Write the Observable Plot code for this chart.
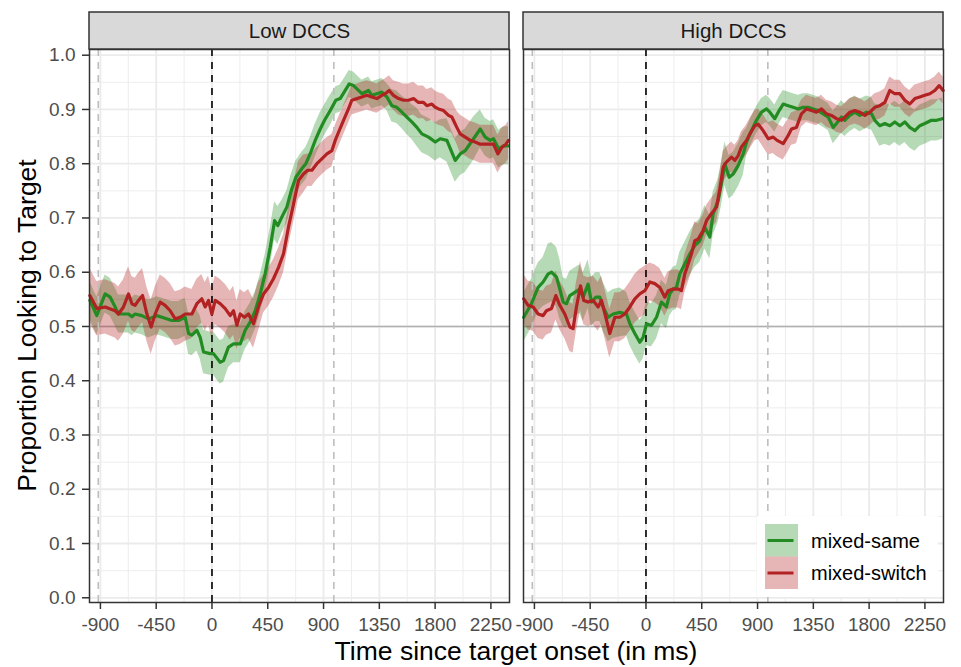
<!DOCTYPE html>
<html><head><meta charset="utf-8">
<script src="https://cdn.jsdelivr.net/npm/d3@7"></script>
<script src="https://cdn.jsdelivr.net/npm/@observablehq/plot@0.6"></script>
<style>
body{margin:0;background:#fff;}
#chart{position:relative;width:961px;height:667px;}
</style>
</head><body><div id="chart"></div>
<script>
// ---- data ----
const panels = ["Low DCCS", "High DCCS"];
const conditions = ["mixed-same", "mixed-switch"];
const colors = ["#228B22", "#B22222"];
const xTicks = [-900, -450, 0, 450, 900, 1350, 1800, 2250];
const xMinor = [-675, -225, 225, 675, 1125, 1575, 2025];
const yTicks = [0, 0.1, 0.2, 0.3, 0.4, 0.5, 0.6, 0.7, 0.8, 0.9, 1.0];
const yMinor = [0.05, 0.15, 0.25, 0.35, 0.45, 0.55, 0.65, 0.75, 0.85, 0.95];
const onsetLine = [0];
const windowLines = [-917, 983];
const chanceLine = [0.5];

const lowSameT = [-985,-929,-862,-821,-781,-754,-673,-646,-620,-566,-512,-445,-404,-324,-270,-216,-189,-162,-122,-95,-68,-15,12,66,93,133,174,228,268,308,349,389,429,470,505,531,564,604,639,677,725,757,792,833,873,908,954,999,1034,1075,1107,1142,1169,1209,1263,1290,1330,1370,1411,1451,1491,1532,1572,1612,1653,1693,1747,1801,1841,1895,1962,2002,2043,2110,2164,2204,2244,2271,2312,2352,2392];
const lowSameV = [0.548,0.520,0.560,0.554,0.536,0.523,0.523,0.518,0.523,0.520,0.514,0.520,0.517,0.511,0.511,0.517,0.487,0.484,0.493,0.480,0.453,0.450,0.450,0.434,0.437,0.462,0.468,0.468,0.493,0.508,0.529,0.560,0.597,0.646,0.695,0.686,0.702,0.720,0.750,0.775,0.791,0.800,0.818,0.843,0.864,0.880,0.898,0.917,0.920,0.935,0.947,0.944,0.938,0.929,0.935,0.926,0.929,0.932,0.923,0.907,0.904,0.895,0.886,0.877,0.867,0.855,0.849,0.840,0.846,0.843,0.806,0.818,0.824,0.846,0.864,0.849,0.843,0.846,0.827,0.833,0.833];
const lowSameSE = [0.035,0.035,0.035,0.035,0.035,0.035,0.035,0.035,0.035,0.035,0.035,0.035,0.035,0.035,0.035,0.035,0.038,0.038,0.038,0.04,0.04,0.04,0.04,0.04,0.04,0.038,0.035,0.035,0.035,0.035,0.035,0.035,0.035,0.035,0.035,0.035,0.03,0.03,0.03,0.03,0.03,0.03,0.03,0.03,0.03,0.028,0.028,0.025,0.025,0.025,0.025,0.025,0.025,0.025,0.025,0.025,0.025,0.025,0.025,0.03,0.03,0.03,0.032,0.032,0.035,0.035,0.035,0.035,0.035,0.04,0.04,0.04,0.04,0.04,0.035,0.035,0.035,0.035,0.035,0.035,0.035];

const lowSwitchT = [-985,-929,-862,-781,-754,-714,-673,-646,-620,-593,-560,-525,-491,-458,-418,-378,-337,-297,-257,-216,-162,-122,-82,-55,-28,-1,26,66,107,147,174,201,228,262,295,335,375,416,456,496,537,577,617,658,698,738,773,806,846,886,927,967,994,1021,1061,1101,1128,1169,1209,1249,1290,1330,1370,1397,1430,1464,1505,1545,1585,1626,1666,1706,1733,1774,1801,1828,1868,1908,1935,1975,2002,2043,2083,2123,2164,2204,2244,2271,2306,2338,2371,2392];
const lowSwitchV = [0.557,0.533,0.536,0.529,0.523,0.536,0.560,0.542,0.539,0.548,0.557,0.523,0.499,0.523,0.545,0.539,0.529,0.514,0.517,0.523,0.523,0.542,0.551,0.536,0.548,0.523,0.548,0.542,0.533,0.520,0.529,0.502,0.523,0.517,0.523,0.505,0.536,0.560,0.572,0.588,0.609,0.634,0.683,0.726,0.769,0.781,0.788,0.788,0.800,0.809,0.818,0.824,0.843,0.858,0.880,0.901,0.917,0.920,0.923,0.926,0.923,0.920,0.926,0.929,0.935,0.926,0.920,0.917,0.917,0.920,0.913,0.913,0.907,0.910,0.904,0.901,0.898,0.889,0.886,0.867,0.855,0.849,0.843,0.840,0.836,0.836,0.836,0.836,0.818,0.830,0.836,0.843];
const lowSwitchSE = [0.05,0.05,0.05,0.05,0.05,0.05,0.05,0.05,0.05,0.05,0.05,0.05,0.05,0.05,0.05,0.05,0.05,0.05,0.05,0.05,0.045,0.045,0.045,0.045,0.045,0.045,0.045,0.045,0.045,0.045,0.045,0.045,0.045,0.045,0.045,0.045,0.045,0.035,0.035,0.035,0.035,0.035,0.035,0.035,0.035,0.035,0.03,0.03,0.03,0.03,0.03,0.03,0.027,0.027,0.027,0.027,0.027,0.027,0.027,0.027,0.027,0.027,0.027,0.027,0.027,0.027,0.03,0.03,0.03,0.03,0.03,0.03,0.03,0.03,0.03,0.03,0.03,0.03,0.03,0.03,0.035,0.035,0.035,0.035,0.035,0.035,0.035,0.035,0.035,0.035,0.035,0.035];

const highSameT = [-986,-924,-870,-830,-789,-762,-722,-695,-668,-641,-614,-574,-534,-507,-467,-440,-405,-372,-346,-305,-265,-211,-157,-130,-90,-50,-23,4,44,85,125,165,192,219,246,273,313,354,394,434,475,515,542,582,609,636,671,703,744,784,811,851,891,932,972,999,1039,1074,1107,1147,1187,1228,1268,1308,1349,1389,1429,1470,1510,1537,1577,1604,1644,1685,1725,1779,1819,1846,1886,1927,1967,2007,2048,2088,2128,2169,2209,2249,2303,2344,2392];
const highSameV = [0.517,0.542,0.572,0.582,0.597,0.600,0.591,0.569,0.545,0.542,0.557,0.563,0.569,0.554,0.578,0.545,0.554,0.554,0.536,0.517,0.523,0.526,0.523,0.505,0.487,0.471,0.480,0.505,0.502,0.517,0.545,0.536,0.560,0.569,0.572,0.597,0.615,0.634,0.649,0.658,0.683,0.665,0.708,0.732,0.763,0.800,0.775,0.781,0.797,0.818,0.840,0.861,0.880,0.895,0.901,0.895,0.883,0.898,0.910,0.907,0.904,0.901,0.904,0.904,0.901,0.898,0.892,0.886,0.867,0.874,0.886,0.880,0.889,0.895,0.889,0.895,0.892,0.880,0.870,0.874,0.870,0.877,0.870,0.877,0.867,0.861,0.870,0.874,0.880,0.880,0.883];
const highSameSE = [0.045,0.045,0.045,0.045,0.055,0.055,0.055,0.055,0.045,0.045,0.045,0.045,0.045,0.045,0.045,0.045,0.045,0.045,0.045,0.045,0.045,0.045,0.04,0.04,0.04,0.04,0.04,0.04,0.04,0.04,0.04,0.04,0.04,0.04,0.04,0.04,0.04,0.04,0.04,0.04,0.04,0.04,0.04,0.04,0.04,0.04,0.04,0.04,0.04,0.04,0.025,0.025,0.025,0.025,0.025,0.025,0.025,0.025,0.025,0.025,0.025,0.025,0.025,0.025,0.025,0.025,0.025,0.025,0.03,0.03,0.03,0.03,0.03,0.03,0.03,0.03,0.03,0.03,0.038,0.038,0.038,0.038,0.038,0.038,0.038,0.038,0.038,0.038,0.038,0.038,0.038];

const highSwitchT = [-986,-951,-910,-870,-830,-803,-762,-727,-695,-655,-614,-588,-561,-528,-502,-467,-426,-386,-359,-324,-292,-251,-211,-171,-130,-90,-50,-9,31,71,112,152,179,219,260,286,313,340,367,394,421,461,488,528,569,596,623,649,690,717,744,770,811,838,878,905,945,986,1026,1058,1107,1147,1174,1214,1254,1295,1335,1375,1416,1456,1496,1537,1577,1604,1644,1685,1725,1765,1806,1846,1886,1927,1967,2007,2048,2088,2128,2169,2209,2249,2290,2330,2365,2397];
const highSwitchV = [0.551,0.539,0.536,0.523,0.520,0.529,0.533,0.557,0.539,0.523,0.499,0.496,0.536,0.575,0.548,0.545,0.548,0.536,0.548,0.517,0.487,0.517,0.517,0.523,0.536,0.551,0.560,0.566,0.582,0.579,0.572,0.554,0.566,0.569,0.569,0.566,0.597,0.615,0.634,0.658,0.661,0.677,0.695,0.708,0.720,0.754,0.794,0.803,0.812,0.806,0.815,0.831,0.843,0.855,0.870,0.873,0.861,0.846,0.849,0.843,0.837,0.852,0.864,0.867,0.892,0.901,0.898,0.895,0.901,0.892,0.889,0.883,0.880,0.886,0.895,0.898,0.895,0.889,0.895,0.904,0.907,0.913,0.935,0.929,0.929,0.917,0.910,0.920,0.923,0.926,0.929,0.935,0.944,0.935];
const highSwitchSE = [0.045,0.045,0.045,0.045,0.045,0.045,0.045,0.045,0.045,0.045,0.045,0.045,0.045,0.045,0.045,0.045,0.045,0.045,0.045,0.045,0.045,0.045,0.045,0.045,0.045,0.045,0.045,0.045,0.035,0.035,0.035,0.035,0.035,0.035,0.035,0.035,0.035,0.035,0.035,0.035,0.028,0.028,0.028,0.028,0.028,0.028,0.028,0.028,0.028,0.028,0.028,0.028,0.028,0.028,0.028,0.028,0.03,0.03,0.03,0.03,0.03,0.03,0.03,0.03,0.025,0.025,0.025,0.025,0.025,0.025,0.025,0.025,0.025,0.025,0.025,0.025,0.025,0.025,0.025,0.025,0.025,0.025,0.025,0.025,0.025,0.025,0.025,0.025,0.025,0.025,0.025,0.025,0.025,0.025];

// ---- build table ----
function series(panel, cond, T, V, S) {
  return T.map((t, i) => ({panel, cond, t, v: V[i], se: S[i]}));
}
const rows = [
  ...series(panels[0], conditions[0], lowSameT, lowSameV, lowSameSE),
  ...series(panels[0], conditions[1], lowSwitchT, lowSwitchV, lowSwitchSE),
  ...series(panels[1], conditions[0], highSameT, highSameV, highSameSE),
  ...series(panels[1], conditions[1], highSwitchT, highSwitchV, highSwitchSE)
];

// ---- layout ----
const W = 961, H = 667;
const mL = 89, mR = 18, mT = 49, mB = 65;
const xDomain = [-988, 2400];
const yDomain = [-0.0087, 1.0105];
const panelGap = 14;
const panelW = (W - mL - mR - panelGap) / 2;
const yPerPx = (yDomain[1] - yDomain[0]) / (H - mT - mB);
const stripTop = yDomain[1] + 37 * yPerPx;
const stripMid = (yDomain[1] + stripTop) / 2;
const xMid = (xDomain[0] + xDomain[1]) / 2;
const FONT = "'Liberation Sans', Arial, Helvetica, sans-serif";

const plot = Plot.plot({
  width: W, height: H,
  marginLeft: mL, marginRight: mR, marginTop: mT, marginBottom: mB,
  style: {fontFamily: FONT, background: "white", overflow: "visible"},
  fx: {domain: panels, paddingInner: panelGap / (panelW + panelGap), paddingOuter: 0, axis: null, label: null},
  x: {domain: xDomain, label: null},
  y: {domain: yDomain, label: null},
  color: {domain: conditions, range: colors},
  marks: [
    Plot.gridX(xMinor, {stroke: "#EBEBEB", strokeOpacity: 1, strokeWidth: 0.9}),
    Plot.gridY(yMinor, {stroke: "#EBEBEB", strokeOpacity: 1, strokeWidth: 0.9}),
    Plot.gridX(xTicks, {stroke: "#EBEBEB", strokeOpacity: 1, strokeWidth: 1.8}),
    Plot.gridY(yTicks, {stroke: "#EBEBEB", strokeOpacity: 1, strokeWidth: 1.8}),
    Plot.ruleY(chanceLine, {stroke: "#B0B0B0", strokeWidth: 1.4}),
    Plot.areaY(rows, {fx: "panel", x: "t", y1: d => d.v - d.se, y2: d => d.v + d.se, fill: "cond", z: "cond", fillOpacity: 0.33}),
    Plot.ruleX(windowLines, {stroke: "#BEBEBE", strokeWidth: 1.6, strokeDasharray: "7,6"}),
    Plot.ruleX(onsetLine, {stroke: "black", strokeWidth: 1.6, strokeDasharray: "7,6"}),
    Plot.line(rows, {fx: "panel", x: "t", y: "v", stroke: "cond", z: "cond", strokeWidth: 3.2, strokeLinejoin: "round"}),
    Plot.frame({stroke: "#333333", strokeWidth: 1.5}),
    Plot.rect(panels, {fx: d => d, x1: () => xDomain[0], x2: () => xDomain[1], y1: () => yDomain[1], y2: () => stripTop, fill: "#D9D9D9", stroke: "#333333", strokeWidth: 1.5}),
    Plot.text(panels, {fx: d => d, x: () => xMid, y: () => stripMid, text: d => d, fontSize: 20.5, fill: "#1A1A1A"}),
    Plot.axisX(xTicks, {tickSize: 7, tickPadding: 8, fontSize: 19, fill: "#4D4D4D", stroke: "#333333", strokeWidth: 1.5, tickFormat: d => String(d), label: null}),
    Plot.axisY(yTicks, {tickSize: 7, tickPadding: 7, fontSize: 19, fill: "#4D4D4D", stroke: "#333333", strokeWidth: 1.5, tickFormat: d3.format(".1f"), label: null})
  ]
});

const svg = d3.select(plot);
// axis titles
svg.append("text")
  .attr("x", (mL + W - mR) / 2).attr("y", 660)
  .attr("text-anchor", "middle").attr("font-size", 26.5).attr("font-family", FONT).attr("fill", "black")
  .text("Time since target onset (in ms)");
svg.append("text")
  .attr("transform", `translate(36,${(mT + H - mB) / 2}) rotate(-90)`)
  .attr("text-anchor", "middle").attr("font-size", 26.5).attr("font-family", FONT).attr("fill", "black")
  .text("Proportion Looking to Target");

// legend (inside right panel, bottom-right)
const lg = svg.append("g").attr("transform", "translate(757,516)");
lg.append("rect").attr("x", 0).attr("y", 0).attr("width", 181).attr("height", 81)
  .style("fill", "white").style("stroke", "none");
conditions.forEach((c, i) => {
  const g = lg.append("g").attr("transform", `translate(8,${8 + i * 32.5})`);
  g.append("rect").attr("width", 33).attr("height", 32.5)
    .style("fill", colors[i]).style("fill-opacity", 0.33).style("stroke", "none");
  g.append("line").attr("x1", 2.5).attr("x2", 28.5).attr("y1", 16.5).attr("y2", 16.5)
    .style("stroke", colors[i]).style("stroke-width", 3);
  g.append("text").attr("x", 46).attr("y", 16.5).attr("dy", "0.35em")
    .style("text-anchor", "start")
    .attr("font-size", 20).attr("font-family", FONT).style("fill", "black").text(c);
});

document.getElementById("chart").appendChild(plot);
</script>
</body></html>
